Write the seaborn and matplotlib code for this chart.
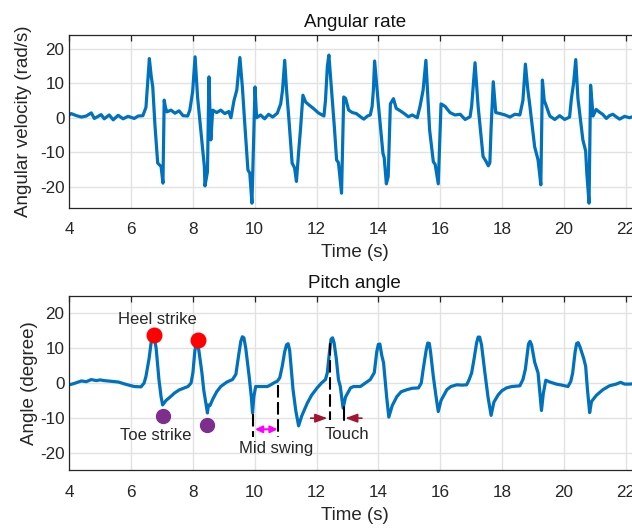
import numpy as np
import pandas as pd
import matplotlib
matplotlib.use("Agg")
import matplotlib.pyplot as plt
import seaborn as sns

# ---- Angular rate (rad/s) vs time (s) ----
rate_t = [4.00, 4.06, 4.23, 4.39, 4.55, 4.71, 4.81, 5.03, 5.13, 5.29, 5.42, 5.58, 5.74, 5.90,
          6.10, 6.23, 6.38, 6.48, 6.55, 6.59, 6.65, 6.70, 6.77, 6.86, 6.97, 7.03, 7.07, 7.11,
          7.16, 7.29, 7.42, 7.55, 7.68, 7.83, 7.90, 7.99, 8.07, 8.15, 8.26, 8.37, 8.39, 8.47,
          8.52, 8.55, 8.58, 8.64, 8.77, 8.90, 9.03, 9.16, 9.23, 9.33, 9.42, 9.52, 9.60, 9.68,
          9.78, 9.84, 9.91, 10.01, 10.06, 10.19, 10.32, 10.45, 10.58, 10.73, 10.84, 10.90, 10.97,
          11.03, 11.10, 11.21, 11.29, 11.35, 11.42, 11.48, 11.56, 11.65, 11.77, 11.91, 12.06,
          12.24, 12.29, 12.35, 12.40, 12.51, 12.58, 12.65, 12.71, 12.81, 12.88, 12.94, 13.04,
          13.16, 13.29, 13.42, 13.53, 13.65, 13.74, 13.80, 13.84, 13.88, 13.96, 14.00, 14.06,
          14.15, 14.19, 14.26, 14.32, 14.39, 14.49, 14.58, 14.71, 14.84, 14.97, 15.10, 15.26,
          15.35, 15.45, 15.54, 15.58, 15.66, 15.78, 15.84, 15.94, 16.03, 16.16, 16.32, 16.48,
          16.65, 16.81, 16.97, 17.02, 17.07, 17.13, 17.23, 17.39, 17.48, 17.56, 17.61, 17.65,
          17.72, 17.80, 17.94, 18.10, 18.26, 18.42, 18.58, 18.68, 18.76, 18.84, 18.90, 19.06,
          19.17, 19.26, 19.31, 19.37, 19.44, 19.55, 19.71, 19.87, 20.03, 20.19, 20.25, 20.32,
          20.39, 20.46, 20.62, 20.71, 20.75, 20.82, 20.87, 20.95, 21.05, 21.16, 21.26, 21.38,
          21.48, 21.59, 21.71, 21.81, 21.97, 22.13, 22.30, 22.47]
rate_v = [0.8, 1.2, 0.6, 0.2, 0.5, 1.4, -0.2, 0.9, -0.3, 0.8, -0.6, 0.7, -0.3, 0.4,
          -0.2, 0.5, 0.6, 3.0, 12.0, 17.1, 12.0, 8.9, -2.0, -13.1, -14.1, -18.9, 5.1, 3.0,
          1.7, 2.2, 1.3, 2.0, 0.6, 0.5, 2.2, 7.5, 17.6, 6.0, -4.0, -14.1, -19.7, -15.6,
          11.8, 2.0, -6.4, 2.2, 1.5, 2.2, 1.2, 1.8, 0.0, 5.0, 8.0, 17.4, 8.9, -2.0,
          -15.1, -16.0, -24.7, 8.9, 0.0, 0.8, -0.3, 1.0, 0.2, 1.3, 4.0, 8.0, 16.6,
          8.0, 0.3, -13.1, -14.5, -18.4, -10.0, -3.5, 6.5, 4.5, 3.6, 2.6, 1.4,
          0.5, 5.0, 14.8, 18.1, 5.0, -3.0, -12.2, -13.0, -21.8, 6.0, 5.6, 2.2,
          1.5, 1.2, 0.3, -0.4, 0.5, 0.8, 3.3, 8.0, 16.4, 8.0, 4.0, -1.6,
          -10.3, -11.5, -19.1, -17.0, 4.0, 5.5, 2.7, 2.0, 1.2, 0.3, 0.8, 0.0,
          3.3, 8.0, 16.6, 10.0, -3.5, -12.7, -13.5, -19.1, 4.0, 3.3, 1.5, 0.8,
          1.0, -0.5, 0.3, 3.3, 9.0, 15.9, 3.3, -11.2, -12.5, -13.9, -13.0, -3.0,
          10.4, 1.5, 1.2, 0.8, 0.2, 1.0, 0.8, 5.0, 15.5, 8.0, 3.8, -8.4,
          -12.2, -19.4, 10.9, 5.0, 3.3, 0.5, -0.5, 0.6, -0.5, 0.2, 5.6, 10.0,
          16.8, 5.6, -6.4, -9.6, -16.3, -24.7, 9.4, 0.5, 2.4, 1.6, 1.0, -0.2,
          0.6, 1.0, 0.2, -0.4, 0.4, 0.0, 0.5, 0.2]

# ---- Pitch angle (degree) vs time (s) ----
pitch_t = [4.00, 4.13, 4.39, 4.55, 4.71, 4.87, 5.00, 5.13, 5.35, 5.58,
           5.84, 6.10, 6.32, 6.42, 6.48, 6.58, 6.65, 6.70, 6.75, 6.81,
           6.90, 6.97, 7.02, 7.13, 7.29, 7.40, 7.55, 7.72, 7.84, 7.94,
           8.00, 8.06, 8.10, 8.14, 8.19, 8.29, 8.35, 8.42, 8.47, 8.50,
           8.55, 8.65, 8.77, 8.90, 9.10, 9.28, 9.39, 9.48, 9.55, 9.60,
           9.65, 9.71, 9.82, 9.89, 9.93, 9.97, 10.03, 10.19, 10.41, 10.52,
           10.65, 10.73, 10.81, 10.89, 10.97, 11.03, 11.08, 11.13, 11.24, 11.33,
           11.42, 11.52, 11.70, 11.84, 12.02, 12.16, 12.29, 12.35, 12.42, 12.47,
           12.52, 12.57, 12.64, 12.71, 12.77, 12.86, 12.94, 13.10, 13.20, 13.42,
           13.58, 13.74, 13.87, 13.95, 14.00, 14.05, 14.11, 14.17, 14.27, 14.34,
           14.45, 14.60, 14.74, 14.93, 15.10, 15.30, 15.39, 15.45, 15.55, 15.60,
           15.65, 15.69, 15.78, 15.87, 15.94, 16.03, 16.22, 16.35, 16.54, 16.71,
           16.86, 16.94, 17.02, 17.10, 17.18, 17.23, 17.28, 17.34, 17.45, 17.55,
           17.65, 17.74, 17.88, 18.00, 18.15, 18.32, 18.58, 18.68, 18.76, 18.86,
           18.91, 18.96, 19.06, 19.17, 19.23, 19.28, 19.34, 19.42, 19.55, 19.76,
           19.94, 20.14, 20.23, 20.29, 20.37, 20.42, 20.47, 20.53, 20.65, 20.71,
           20.77, 20.84, 20.90, 21.06, 21.27, 21.48, 21.70, 21.84, 21.97, 22.13,
           22.30, 22.47]
pitch_a = [-0.5, -0.2, 0.6, 0.4, 1.0, 0.7, 0.9, 0.7, 0.5, 0.3,
           -0.4, -1.0, -1.1, 0.0, 1.9, 7.0, 11.8, 13.3, 13.0, 10.0,
           1.0, -4.0, -6.3, -5.0, -3.8, -2.9, -2.0, -1.4, -1.0, 0.0,
           3.0, 9.0, 11.2, 11.4, 9.5, 3.0, -2.0, -5.8, -8.6, -6.3,
           -6.5, -4.5, -2.5, -1.0, 0.3, 1.0, 2.5, 8.0, 12.0, 13.3,
           13.0, 10.0, 1.9, -4.0, -8.6, -4.0, -1.0, -1.0, -1.0, -0.5,
           0.2, 0.5, 1.5, 4.8, 9.0, 11.0, 11.3, 9.5, -1.9, -8.0,
           -12.3, -9.5, -5.8, -3.5, -1.4, 0.0, 1.0, 3.0, 9.0, 12.6,
           13.0, 11.5, 7.0, 1.0, -1.0, -7.2, -4.0, -1.4, -1.0, -1.0,
           0.0, 1.0, 3.0, 9.0, 11.1, 11.2, 8.0, 5.8, -4.0, -9.8,
           -6.5, -3.9, -2.5, -1.9, -1.5, -1.4, 0.0, 3.8, 9.5, 11.5,
           11.4, 9.0, 1.9, -4.0, -8.2, -5.0, -1.9, -1.0, -0.5, -0.6,
           -0.5, 1.0, 2.9, 7.0, 11.5, 13.2, 13.2, 11.0, 2.9, -4.0,
           -9.3, -5.5, -3.4, -2.2, -1.4, -1.0, -0.8, 1.0, 4.0, 11.2,
           12.0, 11.0, 6.0, 2.9, -3.0, -7.9, -3.0, 0.8, 0.3, -0.3,
           -0.6, -1.0, 0.5, 2.9, 9.0, 11.4, 11.6, 10.3, 7.0, 4.8,
           -2.0, -8.5, -5.3, -3.5, -1.9, -0.8, -0.3, 0.2, -0.3, -0.3,
           -0.2, -0.3]

# gait events marked on the pitch angle
heel_t = [6.73, 8.18]
heel_a = [13.7, 12.5]
toe_t = [7.02, 8.44]
toe_a = [-9.6, -12.0]

x_ticks = [4, 6, 8, 10, 12, 14, 16, 18, 20, 22]
rate_ticks = [-20, -10, 0, 10, 20]
pitch_ticks = [-20, -10, 0, 10, 20]

line_color = "#0072BD"

sns.set_theme(style="white")
plt.rcParams["font.family"] = ["Liberation Sans", "DejaVu Sans"]
plt.rcParams["axes.unicode_minus"] = False

fig = plt.figure(figsize=(6.32, 5.28), dpi=100)
ax1 = fig.add_axes([0.1097, 0.6066, 0.903, 0.3277])
ax2 = fig.add_axes([0.1097, 0.1098, 0.903, 0.3295])


def style_axes(ax, yticks, ylim, title, ylabel, ylabelpad):
    ax.set_xlim(4, 22.47)
    ax.set_ylim(*ylim)
    ax.set_xticks(x_ticks)
    ax.set_yticks(yticks)
    ax.grid(True, color="#e2e2e2", linewidth=1.0)
    ax.set_axisbelow(True)
    for s in ax.spines.values():
        s.set_color("#262626")
        s.set_linewidth(0.9)
    ax.tick_params(direction="in", top=True, right=True, length=4, width=0.9,
                   colors="#262626", labelsize=12.3, labelcolor="#262626")
    ax.tick_params(axis="x", pad=10.5)
    ax.set_title(title, fontsize=13.5, color="#111111", pad=5.5)
    ax.set_xlabel("Time (s)", fontsize=13.5, color="#262626", labelpad=5)
    ax.set_ylabel(ylabel, fontsize=13.5, color="#262626", labelpad=ylabelpad)


# Angular rate
sns.lineplot(x=rate_t, y=rate_v, ax=ax1, sort=False, estimator=None,
             color=line_color, linewidth=2.3)
style_axes(ax1, rate_ticks, (-26, 24), "Angular rate", "Angular velocity (rad/s)", 6)

# Pitch angle
sns.lineplot(x=pitch_t, y=pitch_a, ax=ax2, sort=False, estimator=None,
             color=line_color, linewidth=2.3)
style_axes(ax2, pitch_ticks, (-25, 25), "Pitch angle", "Angle (degree)", 1)

ax2.plot(heel_t, heel_a, "o", color="#FF0000", markersize=10.5, zorder=5)
ax2.plot(toe_t, toe_a, "o", color="#7E2F8E", markersize=10, zorder=5)
ax2.text(6.84, 18.4, "Heel strike", fontsize=12, ha="center", va="center")
ax2.text(6.81, -15.1, "Toe strike", fontsize=12, ha="center", va="center")

# mid swing
dash_kw = dict(color="black", linewidth=1.5, dashes=(6, 2.2))
ax2.plot([9.95, 9.95], [-9.0, -15.4], **dash_kw)
ax2.plot([10.76, 10.76], [-0.5, -15.4], **dash_kw)
ax2.annotate("", xy=(10.01, -13.3), xytext=(10.74, -13.3),
             arrowprops=dict(arrowstyle="<|-|>,head_length=0.35,head_width=0.17",
                             color="#FF00FF", lw=1.5, shrinkA=0, shrinkB=0))
ax2.text(10.68, -18.9, "Mid swing", fontsize=12, ha="center", va="center")

# touch
ax2.plot([12.43, 12.43], [11.5, -10.6], **dash_kw)
ax2.plot([12.90, 12.90], [-6.9, -10.6], color="black", linewidth=1.5)
ax2.annotate("", xy=(12.35, -10.1), xytext=(11.81, -10.1),
             arrowprops=dict(arrowstyle="-|>,head_length=0.6,head_width=0.22",
                             color="#A2142F", lw=1.2, shrinkA=0, shrinkB=0))
ax2.annotate("", xy=(12.93, -10.1), xytext=(13.47, -10.1),
             arrowprops=dict(arrowstyle="-|>,head_length=0.6,head_width=0.22",
                             color="#A2142F", lw=1.2, shrinkA=0, shrinkB=0))
ax2.text(12.98, -14.7, "Touch", fontsize=12, ha="center", va="center")

fig.savefig("out.png", dpi=100)
